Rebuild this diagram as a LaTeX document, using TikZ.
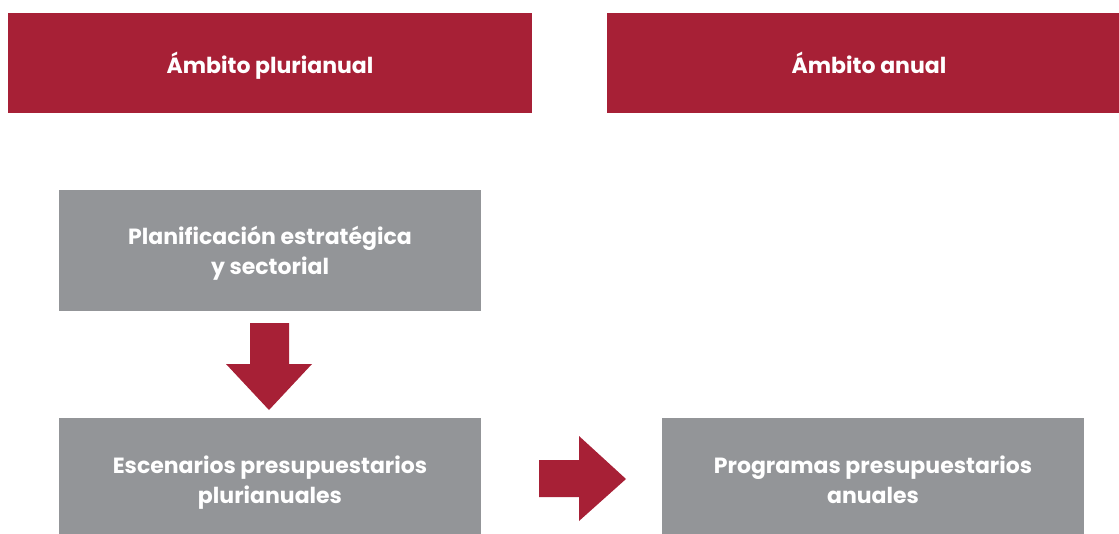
\documentclass[tikz,border=0pt]{standalone}
\usepackage{fontspec}
\setmainfont{Poppins}
\usepackage{tikz}
\definecolor{ambitored}{RGB}{167, 32, 54}
\definecolor{cajagris}{RGB}{147, 149, 152}

\begin{document}
\begin{tikzpicture}[x=1pt, y=-1pt,
		ambito/.style={fill=ambitored, text=white, font=\bfseries\fontsize{22}{28}\selectfont, minimum width=524pt, minimum height=100pt, inner sep=0pt, text depth=0pt},
		caja/.style={fill=cajagris, text=white, font=\bfseries\fontsize{22}{30}\selectfont, align=center, minimum width=422pt, inner sep=0pt, text depth=0pt}]
	\useasboundingbox (0,0) rectangle (1119,533);
	\clip (0,0) rectangle (1119,533);
	
	% Cabeceras
	\node[ambito] (plurianual) at (270,63) {Ámbito plurianual};
	\node[ambito] (anual) at (869,63) {Ámbito anual};
	
	% Cajas
	\node[caja, minimum height=121pt] (planif) at (270,250.5) {Planificación estratégica\\y sectorial};
	\node[caja, minimum height=123pt] (escen) at (270,479.5) {Escenarios presupuestarios\\plurianuales};
	\node[caja, minimum height=123pt] (progr) at (873,479.5) {Programas presupuestarios\\anuales};
	
	% Flechas
	\fill[ambitored] (250,323) -- (289,323) -- (289,364) -- (312,364) -- (269,410) -- (226,364) -- (250,364) -- cycle;
	\fill[ambitored] (539,460) -- (579,460) -- (579,436) -- (626,479) -- (579,521) -- (579,497) -- (539,497) -- cycle;
\end{tikzpicture}
\end{document}
